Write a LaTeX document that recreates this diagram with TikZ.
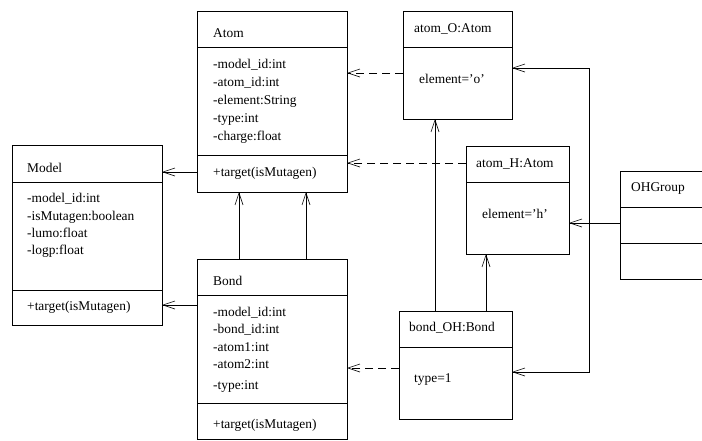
\documentclass[tikz,border=0pt]{standalone}
\usepackage{fontspec}
\setmainfont{Liberation Serif}
\usetikzlibrary{arrows.meta}

\tikzset{
  classbox/.style={draw, line width=0.8pt, anchor=north west, inner sep=0pt, outer sep=0pt},
  sep/.style={line width=0.8pt},
  lbl/.style={anchor=base west, inner sep=0pt, font=\fontsize{13.4}{16}\selectfont},
  conn/.style={line width=0.6pt},
  barb/.tip={Straight Barb[length=12pt,width=8pt]},
  openhead/.style={-barb},
  assoc/.style={conn, openhead},
  dep/.style={conn, openhead, dash pattern=on 8pt off 5pt},
}

\begin{document}
\begin{tikzpicture}[x=1pt, y=-1pt]
\useasboundingbox (0,0) rectangle (702,440);
\clip (0,0) rectangle (702,440);

% ---- class Model ----
\node[classbox, minimum width=150pt, minimum height=180pt] (model) at (12,145) {};
\draw[sep] (model.west |- 0,182) -- (model.east |- 0,182);
\draw[sep] (model.west |- 0,290) -- (model.east |- 0,290);
\node[lbl] (modelT) at (27,172) {Model};
\node[lbl] (modelA1) at (27,202) {-model\_id:int};
\node[lbl] (modelA2) at (27,220) {-isMutagen:boolean};
\node[lbl] (modelA3) at (27,237) {-lumo:float};
\node[lbl] (modelA4) at (27,254) {-logp:float};
\node[lbl] (modelM) at (27,310) {+target(isMutagen)};

% ---- class Atom ----
\node[classbox, minimum width=150pt, minimum height=181pt] (atom) at (197,11) {};
\draw[sep] (atom.west |- 0,47) -- (atom.east |- 0,47);
\draw[sep] (atom.west |- 0,155) -- (atom.east |- 0,155);
\node[lbl] (atomT) at (213,37) {Atom};
\node[lbl] (atomA1) at (213,68) {-model\_id:int};
\node[lbl] (atomA2) at (213,86) {-atom\_id:int};
\node[lbl] (atomA3) at (213,104) {-element:String};
\node[lbl] (atomA4) at (213,122) {-type:int};
\node[lbl] (atomA5) at (213,140) {-charge:float};
\node[lbl] (atomM) at (213,176) {+target(isMutagen)};

% ---- class Bond ----
\node[classbox, minimum width=150pt, minimum height=180pt] (bond) at (197,259) {};
\draw[sep] (bond.west |- 0,295) -- (bond.east |- 0,295);
\draw[sep] (bond.west |- 0,403) -- (bond.east |- 0,403);
\node[lbl] (bondT) at (213,285) {Bond};
\node[lbl] (bondA1) at (213,316) {-model\_id:int};
\node[lbl] (bondA2) at (213,333) {-bond\_id:int};
\node[lbl] (bondA3) at (213,351) {-atom1:int};
\node[lbl] (bondA4) at (213,368) {-atom2:int};
\node[lbl] (bondA5) at (213,389) {-type:int};
\node[lbl] (bondM) at (213,428) {+target(isMutagen)};

% ---- object atom_O ----
\node[classbox, minimum width=109pt, minimum height=108pt] (atomO) at (403,11) {};
\draw[sep] (atomO.west |- 0,47) -- (atomO.east |- 0,47);
\node[lbl] (atomOT) at (414,32) {atom\_O:Atom};
\node[lbl] (atomOV) at (419,83) {element='o'};

% ---- object atom_H ----
\node[classbox, minimum width=103pt, minimum height=108pt] (atomH) at (466,146) {};
\draw[sep] (atomH.west |- 0,182) -- (atomH.east |- 0,182);
\node[lbl] (atomHT) at (476,167) {atom\_H:Atom};
\node[lbl] (atomHV) at (482,218) {element='h'};

% ---- object bond_OH ----
\node[classbox, minimum width=113pt, minimum height=108pt] (bondOH) at (399,311) {};
\draw[sep] (bondOH.west |- 0,347) -- (bondOH.east |- 0,347);
\node[lbl] (bondOHT) at (409,331) {bond\_OH:Bond};
\node[lbl] (bondOHV) at (414,382) {type=1};

% ---- class OHGroup (runs past the right edge) ----
\node[classbox, minimum width=110pt, minimum height=108pt] (ohg) at (620,171) {};
\draw[sep] (ohg.west |- 0,207) -- (ohg.east |- 0,207);
\draw[sep] (ohg.west |- 0,243) -- (ohg.east |- 0,243);
\node[lbl] (ohgT) at (631,191) {OHGroup};

% ---- associations ----
\draw[assoc] (atom.west |- 0,172) -- (model.east |- 0,172);
\draw[assoc] (bond.west |- 0,305) -- (model.east |- 0,305);
\draw[assoc] (bond.north -| 239,0) -- (atom.south -| 239,0);
\draw[assoc] (bond.north -| 306,0) -- (atom.south -| 306,0);
\draw[assoc] (bondOH.north -| 435,0) -- (atomO.south -| 435,0);
\draw[assoc] (bondOH.north -| 486,0) -- (atomH.south -| 486,0);
\draw[assoc] (ohg.west |- 0,223) -- (atomH.east |- 0,223);

% bracket joining atom_O and bond_OH
\coordinate (brT) at (589,68);
\coordinate (brB) at (589,372);
\draw[conn, barb-barb]
  (atomO.east |- brT) -- (brT) -- (brB) -- (bondOH.east |- brB);

% ---- instance-of dependencies ----
\draw[dep] (atomO.west |- 0,73) -- (atom.east |- 0,73);
\draw[dep] (atomH.west |- 0,163) -- (atom.east |- 0,163);
\draw[dep] (bondOH.west |- 0,368) -- (bond.east |- 0,368);

\end{tikzpicture}
\end{document}
